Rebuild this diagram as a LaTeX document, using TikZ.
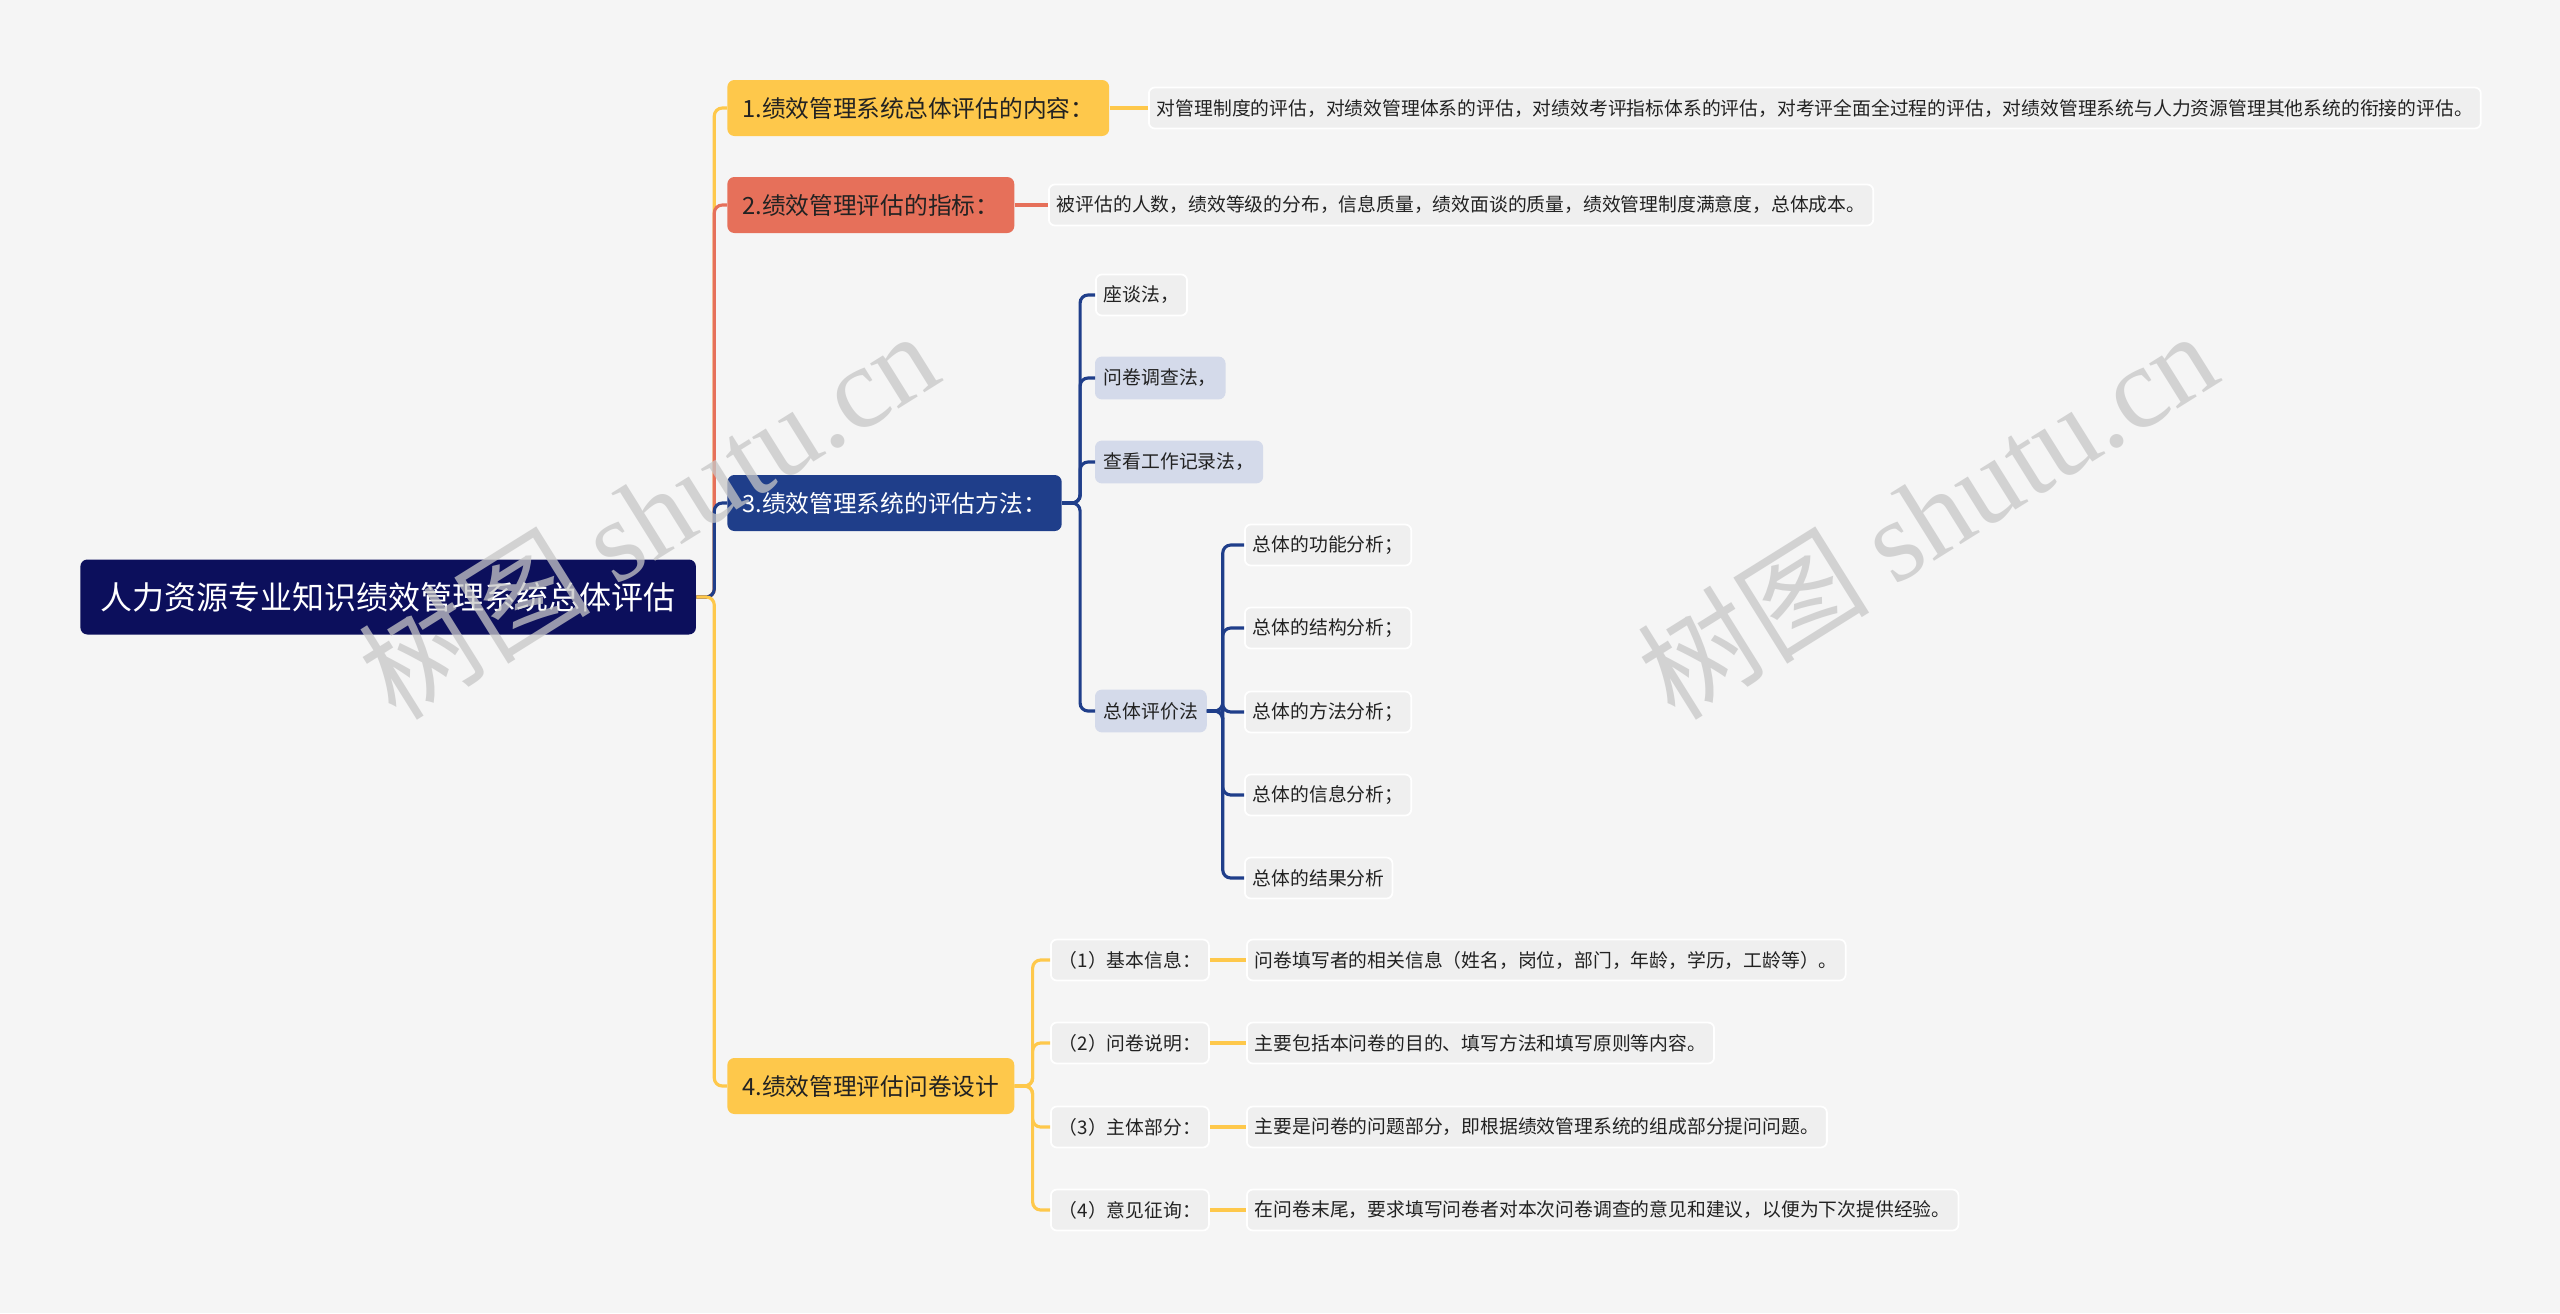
\documentclass[tikz,border=0pt]{standalone}
\usepackage{fontspec}
\setmainfont{Noto Sans CJK SC}
\newfontfamily\cjk{Noto Sans CJK SC}
\newfontfamily\markfont{Liberation Serif}
\usetikzlibrary{positioning}

\definecolor{bgcol}{HTML}{F5F5F5}
\definecolor{rootcol}{HTML}{0C0F5C}
\definecolor{yellowcol}{HTML}{FEC84B}
\definecolor{coralcol}{HTML}{E6705A}
\definecolor{bluecol}{HTML}{1F3E8A}
\definecolor{leafcol}{HTML}{EFEFEF}
\definecolor{methodcol}{HTML}{D4DAEA}
\definecolor{textcol}{HTML}{222222}

\tikzset{
    rootbox/.style={fill=rootcol, text=white, rounded corners=0.14cm, anchor=west,
        minimum height=1.5cm, inner xsep=0.4cm, font=\fontsize{18.2}{20}\selectfont},
    topicbox/.style={rounded corners=0.14cm, anchor=west, text=textcol,
        minimum height=1.12cm, inner xsep=0.3cm, font=\fontsize{13.5}{15}\selectfont},
    leafbox/.style={fill=leafcol, draw=white, line width=1pt, rounded corners=0.12cm,
        anchor=west, text=textcol, minimum height=0.82cm, inner xsep=0.16cm,
        font=\fontsize{10.7}{12}\selectfont},
    methodbox/.style={leafbox, fill=methodcol, draw=methodcol},
    link/.style={line width=1.8pt, rounded corners=0.16cm},
    stub/.style={line width=2.6pt},
    watermark/.style={text=black!22, text opacity=0.75, rotate=32,
        font=\fontsize{66}{76}\selectfont},
}

\begin{document}
\begin{tikzpicture}[x=0.02cm, y=-0.02cm]
    % 背景
    \fill[bgcol] (0,0) rectangle (2560,1313);
    \useasboundingbox (0,0) rectangle (2560,1313);

    % 中心テーマ
    \node[rootbox] (root) at (80,597) {人力资源专业知识绩效管理系统总体评估};

    % 主題ノード
    \node[topicbox, fill=yellowcol] (t1) at (727,108) {1.绩效管理系统总体评估的内容：};
    \node[topicbox, fill=coralcol] (t2) at (727,205) {2.绩效管理评估的指标：};
    \node[topicbox, fill=bluecol, text=white] (t3) at (727,503) {3.绩效管理系统的评估方法：};
    \node[topicbox, fill=yellowcol] (t4) at (727,1086) {4.绩效管理评估问卷设计};

    % 中心から各主題への線
    \draw[link, yellowcol] (root.east) -- ++(18,0) |- (t1.west);
    \draw[link, coralcol] (root.east) -- ++(18,0) |- (t2.west);
    \draw[link, bluecol] (root.east) -- ++(18,0) |- (t3.west);
    \draw[link, yellowcol] (root.east) -- ++(18,0) |- (t4.west);

    % 1, 2 の説明
    \node[leafbox] (d1) at (1148,108) {对管理制度的评估，对绩效管理体系的评估，对绩效考评指标体系的评估，对考评全面全过程的评估，对绩效管理系统与人力资源管理其他系统的衔接的评估。};
    \node[leafbox] (d2) at (1048,205) {被评估的人数，绩效等级的分布，信息质量，绩效面谈的质量，绩效管理制度满意度，总体成本。};
    \draw[stub, yellowcol] (t1.east) -- (d1.west);
    \draw[stub, coralcol] (t2.east) -- (d2.west);

    % 3 の評価方法
    \node[leafbox] (m1) at (1095,295) {座谈法，};
    \node[methodbox] (m2) at (1095,378) {问卷调查法，};
    \node[methodbox] (m3) at (1095,462) {查看工作记录法，};
    \node[methodbox] (m4) at (1095,711) {总体评价法};
    \foreach \m in {m1, m2, m3, m4} {
        \draw[link, bluecol] (t3.east) -- ++(18,0) |- (\m.west);
    }

    % 総体評価法の内訳
    \foreach \i/\y/\txt in {
        1/545/总体的功能分析；,
        2/628/总体的结构分析；,
        3/712/总体的方法分析；,
        4/795/总体的信息分析；,
        5/878/总体的结果分析
    } {
        \node[leafbox] (s\i) at (1244,\y) {\txt};
        \draw[link, bluecol] (m4.east) -- ++(16,0) |- (s\i.west);
    }

    % 4 の問卷設計
    \foreach \i/\y/\lab/\ans in {
        1/960/（1）基本信息：/问卷填写者的相关信息（姓名，岗位，部门，年龄，学历，工龄等）。,
        2/1043/（2）问卷说明：/主要包括本问卷的目的、填写方法和填写原则等内容。,
        3/1127/（3）主体部分：/主要是问卷的问题部分，即根据绩效管理系统的组成部分提问问题。,
        4/1210/（4）意见征询：/在问卷末尾，要求填写问卷者对本次问卷调查的意见和建议，以便为下次提供经验。
    } {
        \node[leafbox] (q\i) at (1050,\y) {\lab};
        \node[leafbox] (a\i) at (1246,\y) {\ans};
        \draw[link, yellowcol] (t4.east) -- ++(18,0) |- (q\i.west);
        \draw[stub, yellowcol] (q\i.east) -- (a\i.west);
    }

    % 透かし
    \node[watermark] (mark1) at (648,514) {{\cjk 树图} {\markfont shutu.cn}};
    \node[watermark] (mark2) at (1927,514) {{\cjk 树图} {\markfont shutu.cn}};
\end{tikzpicture}
\end{document}
